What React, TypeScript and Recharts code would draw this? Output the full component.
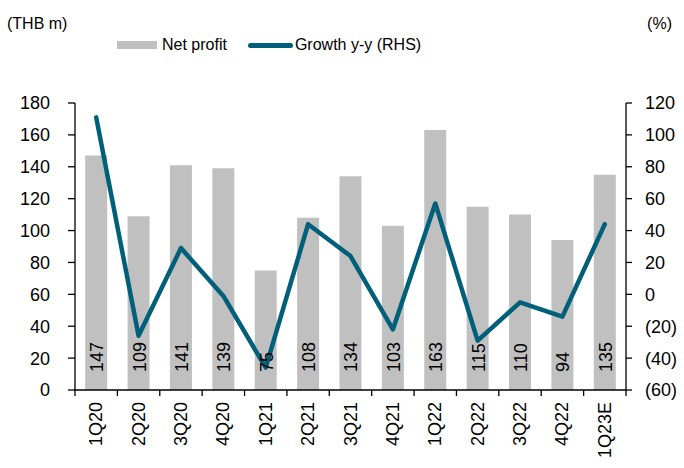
import React from 'react';
import { ComposedChart, Bar, Line, XAxis, YAxis, LabelList } from 'recharts';

// quarters, net profit (THB m) and y-y growth (%)
const quarters = ['1Q20', '2Q20', '3Q20', '4Q20', '1Q21', '2Q21', '3Q21', '4Q21', '1Q22', '2Q22', '3Q22', '4Q22', '1Q23E'];
const netProfit = [147, 109, 141, 139, 75, 108, 134, 103, 163, 115, 110, 94, 135];
const growthYoY = [111, -26, 29, -1, -46, 44, 24, -22, 57, -29, -5, -14, 44];

const leftTicks = [0, 20, 40, 60, 80, 100, 120, 140, 160, 180];
const rightTicks = [-60, -40, -20, 0, 20, 40, 60, 80, 100, 120];

const data = quarters.map((q, i) => ({ q, profit: netProfit[i], growth: growthYoY[i] }));

const FONT = '"Liberation Sans", Arial, sans-serif';
const BAR = '#c0c0c0';
const TEAL = '#00607a';
const CHART_H = 468;
const XAXIS_H = 78;
const AXIS_Y = CHART_H - XAXIS_H;

const fmtPct = (v: number) => (v < 0 ? `(${-v})` : `${v}`);

// category label rotated, with tick marks drawn between categories
const QuarterTick = (props: any) => {
    const { x, y, payload, index } = props;
    const half = payload && payload.offset ? payload.offset : 21.2;
    return (
        <g>
            <line x1={x - half} y1={AXIS_Y} x2={x - half} y2={AXIS_Y + 6} stroke="#000" strokeWidth={1.3} />
            {index === quarters.length - 1 && (
                <line x1={x + half} y1={AXIS_Y} x2={x + half} y2={AXIS_Y + 6} stroke="#000" strokeWidth={1.3} />
            )}
            <text
                x={x}
                y={y}
                transform={`rotate(-90, ${x}, ${y})`}
                textAnchor="end"
                dominantBaseline="central"
                fontSize={18}
                fontFamily={FONT}
                fill="#000"
            >
                {payload.value}
            </text>
        </g>
    );
};

const BarValue = (props: any) => {
    const { x, y, width, height, value } = props;
    const cx = x + width / 2 + 1;
    const by = y + height - 18;
    return (
        <text
            x={cx}
            y={by}
            transform={`rotate(-90, ${cx}, ${by})`}
            textAnchor="start"
            dominantBaseline="central"
            fontSize={18}
            fontFamily={FONT}
            fill="#000"
        >
            {value}
        </text>
    );
};

export default function App() {
    return (
        <div style={{ position: 'absolute', left: 0, top: 0, width: 684, height: CHART_H, background: '#fff', fontFamily: FONT }}>
            <div style={{ position: 'absolute', left: 7, top: 15, fontSize: 16, color: '#000' }}>(THB m)</div>
            <div style={{ position: 'absolute', right: 12, top: 15, fontSize: 16, color: '#000' }}>(%)</div>
            <div style={{ position: 'absolute', left: 117, top: 36, display: 'flex', alignItems: 'center', fontSize: 16, color: '#000' }}>
                <span style={{ display: 'inline-block', width: 40, height: 8, background: BAR, marginRight: 5 }} />
                <span>Net profit</span>
                <span style={{ display: 'inline-block', width: 45, height: 5, background: TEAL, borderRadius: 3, marginLeft: 21, marginRight: 2 }} />
                <span>Growth y-y (RHS)</span>
            </div>
            <ComposedChart
                width={684}
                height={CHART_H}
                data={data}
                margin={{ top: 103, right: 0, bottom: 0, left: 0 }}
                barCategoryGap="24%"
                style={{ position: 'absolute', left: 0, top: 0 }}
            >
                <XAxis
                    dataKey="q"
                    height={XAXIS_H}
                    interval={0}
                    tickLine={false}
                    tickSize={6}
                    tickMargin={6}
                    stroke="#000"
                    axisLine={{ stroke: '#000', strokeWidth: 1.3 }}
                    tick={<QuarterTick />}
                />
                <YAxis
                    yAxisId="left"
                    width={75}
                    domain={[0, 180]}
                    ticks={leftTicks}
                    interval={0}
                    tickSize={7}
                    tickMargin={18}
                    stroke="#000"
                    axisLine={{ stroke: '#000', strokeWidth: 1.3 }}
                    tickLine={{ stroke: '#000', strokeWidth: 1.3 }}
                    tick={{ fontSize: 18, fontFamily: FONT, fill: '#000' }}
                />
                <YAxis
                    yAxisId="right"
                    orientation="right"
                    width={58}
                    domain={[-60, 120]}
                    ticks={rightTicks}
                    interval={0}
                    tickSize={6}
                    tickMargin={13}
                    tickFormatter={fmtPct}
                    stroke="#000"
                    axisLine={{ stroke: '#000', strokeWidth: 1.3 }}
                    tickLine={{ stroke: '#000', strokeWidth: 1.3 }}
                    tick={{ fontSize: 18, fontFamily: FONT, fill: '#000' }}
                />
                <Bar yAxisId="left" dataKey="profit" fill={BAR} isAnimationActive={false}>
                    <LabelList dataKey="profit" content={<BarValue />} />
                </Bar>
                <Line
                    yAxisId="right"
                    type="linear"
                    dataKey="growth"
                    stroke={TEAL}
                    strokeWidth={4.5}
                    strokeLinecap="round"
                    strokeLinejoin="round"
                    dot={false}
                    isAnimationActive={false}
                />
            </ComposedChart>
        </div>
    );
}
